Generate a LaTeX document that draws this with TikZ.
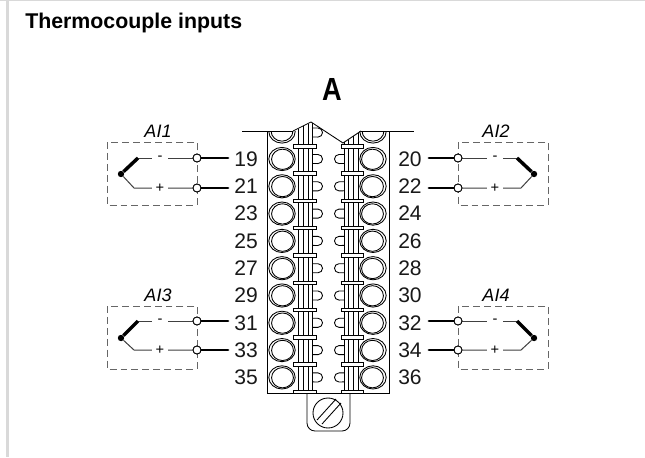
\documentclass[tikz,border=0pt]{standalone}
\usepackage{fontspec}
\setmainfont{Liberation Sans}
\newcommand{\rowpitch}{27.3}
\tikzset{
  x=0.75pt,y=-0.75pt,
  wire/.style={line width=0.75pt,black!75},
  part/.style={line width=0.65pt,black},
  thick wire/.style={line width=2.1pt,black,line cap=round},
  dbox/.style={draw=black!60,line width=0.75pt,dash pattern=on 5.2pt off 3pt},
  term/.style={circle,draw=black,line width=0.65pt,fill=white,minimum size=6pt,inner sep=0pt},
  tip/.style={circle,fill=black,minimum size=4.8pt,inner sep=0pt},
  num/.style={font=\fontsize{15.8}{15}\selectfont,inner sep=0pt,text=black!90},
  ailabel/.style={font=\fontsize{13.5}{14}\selectfont\itshape,inner sep=0pt},
  sign/.style={font=\fontsize{11}{11}\selectfont,inner sep=0pt,fill=white,minimum width=12pt,minimum height=9pt},
}
\newcommand{\sensorL}[5]{%
  \draw[dbox] (107,#3) rectangle (197,#3+63);
  \node[ailabel] (#1lab) at (158,#3-11) {#2};
  \node[tip] (#1j) at (121,#3+32) {};
  \node[term] (#1a) at (197,#4) {};
  \node[term] (#1b) at (197,#5) {};
  \coordinate (#1c) at (138,#4);
  \coordinate (#1d) at (134,#5);
  \draw[wire] (#1c) -- (#1a);
  \draw[wire] (#1j) -- (#1d) -- (#1b);
  \draw[line width=2.6pt] (#1j) -- (#1c);
  \node[sign] (#1m) at (160,#4) {-};
  \node[sign] (#1p) at (160,#5) {+};
  \node[term] at (197,#4) {};
  \node[term] at (197,#5) {};
  \coordinate (#1e) at (228,#4);
  \coordinate (#1f) at (228,#5);
  \draw[thick wire] (#1a) -- (#1e);
  \draw[thick wire] (#1b) -- (#1f);
}
\newcommand{\sensorR}[5]{%
  \draw[dbox] (458,#3) rectangle (548,#3+63);
  \node[ailabel] (#1lab) at (496,#3-11) {#2};
  \node[tip] (#1j) at (534,#3+32) {};
  \node[term] (#1a) at (458,#4) {};
  \node[term] (#1b) at (458,#5) {};
  \coordinate (#1c) at (517,#4);
  \coordinate (#1d) at (521,#5);
  \draw[wire] (#1c) -- (#1a);
  \draw[wire] (#1j) -- (#1d) -- (#1b);
  \draw[line width=2.6pt] (#1j) -- (#1c);
  \node[sign] (#1m) at (495,#4) {-};
  \node[sign] (#1p) at (495,#5) {+};
  \node[term] at (458,#4) {};
  \node[term] at (458,#5) {};
  \coordinate (#1e) at (429,#4);
  \coordinate (#1f) at (429,#5);
  \draw[thick wire] (#1a) -- (#1e);
  \draw[thick wire] (#1b) -- (#1f);
}
\begin{document}
\begin{tikzpicture}
\useasboundingbox (0,0) rectangle (645,457);
\fill[white] (0,0) rectangle (645,457);
\fill[black!15] (0,0) rectangle (645,1.3);
\fill[black!15] (6,0) rectangle (9,457);
\node[anchor=base west,inner sep=0pt,font=\fontsize{16}{18}\selectfont\bfseries] (title) at (25,28) {Thermocouple inputs};
\node[anchor=base,font=\fontsize{24}{24}\selectfont\bfseries,inner sep=0pt,xscale=0.85] (A) at (332,100) {A};

% block outline
\draw[part] (242,131) -- (293,131);
\draw[part] (361,131) -- (414,131);
\draw[part] (267,131) -- (267,393) -- (389,393) -- (389,131);

% tab + screw
\draw[part,rounded corners=6pt] (307,393) -- (307,431) -- (350,431) -- (350,393);
\node[circle,draw,line width=0.65pt,minimum size=22.5pt,inner sep=0pt] (screw) at (328,413) {};
\draw[part] (317,420) -- (336,399);
\draw[part] (322,424) -- (341,403);

% terminal circles
\begin{scope}
\clip (267,131) rectangle (389,393);
\foreach \i in {0,...,8} {
  \pgfmathsetmacro{\yy}{159+\i*\rowpitch}
  \foreach \cx/\s in {282/1,373/-1} {
    \draw[part] (\cx,\yy) ellipse [x radius=9.9pt,y radius=8.7pt];
    \draw[part] (\cx+\s*0.5,\yy+0.3) ellipse [x radius=8.2pt,y radius=7.6pt];
  }
}
\foreach \cx in {282,373} {
  \draw[part] (\cx,131.5) ellipse [x radius=9.9pt,y radius=8.7pt];
  \draw[part] (\cx,131) ellipse [x radius=8.2pt,y radius=7.6pt];
}
\end{scope}

% bumps
\foreach \i in {0,...,8} {
  \pgfmathsetmacro{\yy}{159+\i*\rowpitch}
  \draw[part] (312,\yy-4.5) -- (318,\yy-4.5) arc[start angle=90,end angle=-90,radius=3.4pt] -- (312,\yy+4.5);
  \draw[part] (344,\yy-4.5) -- (339,\yy-4.5) arc[start angle=90,end angle=270,radius=3.4pt] -- (344,\yy+4.5);
}
\draw[part] (312,128) -- (318,128) arc[start angle=90,end angle=-90,radius=3.4pt] -- (312,137);

% rails
\foreach \xx in {298,303,308,312} { \draw[part] (\xx,393) -- (\xx,{122+abs(\xx-311)*0.5}); }
\foreach \xx in {344,348,353,358} { \draw[part] (\xx,393) -- (\xx,{143-(\xx-343)*0.667}); }

% roof
\draw[part] (293,131) -- (311,122) -- (343,143) -- (361,131);

% clamp bars
\foreach \i in {0,...,9} {
  \pgfmathsetmacro{\yy}{144.5+\i*\rowpitch}
  \draw[part,fill=white] (293,\yy) rectangle (316,\yy+3.5);
  \draw[part,fill=white] (341,\yy) rectangle (363,\yy+3.5);
}

% numbers
\foreach \n/\i in {19/0,21/1,23/2,25/3,27/4,29/5,31/6,33/7,35/8} {
  \node[num,anchor=east] (n\n) at (258,{159+\i*\rowpitch}) {\n};
}
\foreach \n/\i in {20/0,22/1,24/2,26/3,28/4,30/5,32/6,34/7,36/8} {
  \node[num,anchor=west] (n\n) at (398,{159+\i*\rowpitch}) {\n};
}

\sensorL{s1}{AI1}{142}{158}{188}
\sensorL{s3}{AI3}{306}{321}{350}
\sensorR{s2}{AI2}{142}{158}{188}
\sensorR{s4}{AI4}{306}{321}{350}
\end{tikzpicture}
\end{document}
